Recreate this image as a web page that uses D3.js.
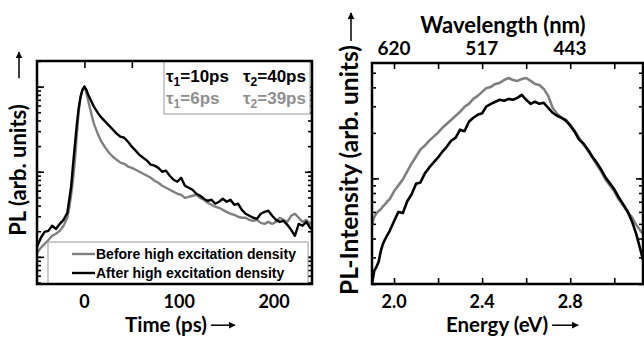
<!DOCTYPE html>
<html>
<head>
<meta charset="utf-8">
<script src="https://cdn.jsdelivr.net/npm/d3@7"></script>
<style>
  body { margin: 0; background: #fff; }
</style>
</head>
<body>
<script>
// left panel: time resolved PL, normalised to the peak
const timePs = [-50, -46, -42, -38, -34, -30, -26, -22, -18, -16, -14, -12, -10, -8, -6, -4, -2, 0, 2, 4, 6, 8,
  10, 14, 18, 22, 26, 30, 34, 38, 42, 46, 50, 54, 58, 62, 66, 70, 74, 78, 82, 86, 90, 94, 98, 102, 106, 110,
  114, 118, 122, 126, 130, 134, 138, 142, 146, 150, 154, 158, 162, 166, 170, 174, 178, 182, 186, 190, 194,
  198, 202, 206, 210, 214, 218, 222, 226, 230, 234, 238, 240];
const plBefore = [0.0111, 0.0128, 0.0142, 0.0158, 0.0177, 0.0187, 0.0202, 0.0232, 0.0288, 0.0377, 0.0536,
  0.0805, 0.138, 0.272, 0.508, 0.763, 0.922, 1, 0.850, 0.684, 0.551, 0.444,
  0.367, 0.280, 0.225, 0.192, 0.167, 0.150, 0.138, 0.128, 0.124, 0.115, 0.111, 0.1056, 0.100, 0.0947, 0.0897,
  0.0850, 0.0784, 0.0743, 0.0685, 0.0648, 0.0614, 0.0582, 0.0551, 0.0536, 0.0494, 0.0508, 0.0522, 0.0536,
  0.0494, 0.0469, 0.0432, 0.0409, 0.0388, 0.0377, 0.0357, 0.0338, 0.0321, 0.0312, 0.0296, 0.0288, 0.0288,
  0.0272, 0.0265, 0.0272, 0.0251, 0.0244, 0.0258, 0.0244, 0.0258, 0.0288, 0.0272, 0.0258, 0.0304, 0.0321,
  0.0288, 0.0258, 0.0272, 0.0244, 0.0258];
const plAfter = [0.0131, 0.0167, 0.0197, 0.0202, 0.0232, 0.0213, 0.0244, 0.0272, 0.0330, 0.0469, 0.0666,
  0.121, 0.208, 0.357, 0.566, 0.763, 0.922, 1, 0.922, 0.805, 0.723, 0.648,
  0.582, 0.494, 0.432, 0.388, 0.348, 0.312, 0.280, 0.258, 0.251, 0.225, 0.197, 0.177, 0.158, 0.146, 0.135,
  0.121, 0.118, 0.111, 0.100, 0.103, 0.0897, 0.0805, 0.0763, 0.0850, 0.0685, 0.0648, 0.0614, 0.0551, 0.0522,
  0.0481, 0.0456, 0.0469, 0.0421, 0.0444, 0.0481, 0.0444, 0.0469, 0.0409, 0.0421, 0.0357, 0.0321, 0.0304,
  0.0288, 0.0280, 0.0321, 0.0338, 0.0348, 0.0304, 0.0272, 0.0258, 0.0265, 0.0238, 0.0208, 0.0177, 0.0244,
  0.0232, 0.0258, 0.0219, 0.0213];
const timeTicks = [0, 100, 200];
const timeTopTicks = [0, 50, 100, 150, 200];
const plMajor = [0.01, 0.1, 1];
const tauRows = [['10', '40'], ['6', '39']];
const legendLabels = ['Before high excitation density', 'After high excitation density'];

// right panel: PL spectra
const energyEv = [1.90, 1.91, 1.92, 1.93, 1.94, 1.95, 1.96, 1.97, 1.98, 2.00, 2.02, 2.04, 2.06, 2.08, 2.10,
  2.12, 2.14, 2.16, 2.18, 2.20, 2.22, 2.24, 2.26, 2.28, 2.30, 2.32, 2.34, 2.36, 2.38, 2.40, 2.42, 2.44, 2.46,
  2.48, 2.50, 2.52, 2.54, 2.56, 2.58, 2.60, 2.62, 2.64, 2.66, 2.68, 2.70, 2.72, 2.74, 2.76, 2.78, 2.80, 2.82,
  2.84, 2.86, 2.88, 2.90, 2.92, 2.94, 2.96, 2.98, 3.00, 3.02, 3.04, 3.06, 3.08, 3.10, 3.12, 3.135];
const specBefore = [0.498, 0.554, 0.588, 0.607, 0.625, 0.654, 0.675, 0.706, 0.727, 0.821, 0.899, 0.985, 1.112,
  1.255, 1.396, 1.552, 1.648, 1.778, 1.889, 2.008, 2.165, 2.301, 2.444, 2.596, 2.759, 2.976, 3.114, 3.357,
  3.516, 3.735, 3.969, 4.030, 4.217, 4.284, 4.479, 4.616, 4.479, 4.415, 4.547, 4.616, 4.415, 4.217, 4.152,
  3.908, 3.516, 2.931, 2.678, 2.519, 2.444, 2.266, 2.069, 1.861, 1.673, 1.528, 1.375, 1.236, 1.112, 0.985,
  0.899, 0.821, 0.727, 0.664, 0.598, 0.554, 0.491, 0.448, 0.422];
const specAfter = [0.201, 0.244, 0.260, 0.280, 0.331, 0.370, 0.397, 0.422, 0.448, 0.521, 0.600, 0.590, 0.706,
  0.785, 0.920, 0.940, 1.079, 1.181, 1.274, 1.375, 1.505, 1.624, 1.778, 1.861, 2.100, 2.050, 2.371, 2.519,
  2.637, 2.700, 3.000, 3.114, 3.212, 3.311, 3.261, 3.357, 3.311, 3.411, 3.570, 3.311, 3.114, 3.212, 3.114,
  3.162, 2.931, 2.718, 2.596, 2.519, 2.408, 2.233, 2.038, 1.805, 1.700, 1.552, 1.396, 1.274, 1.146, 1.015,
  0.927, 0.847, 0.750, 0.675, 0.607, 0.521, 0.428, 0.331, 0.272];
const energyTicks = [2.0, 2.4, 2.8];
const energyMinorTicks = [2.0, 2.2, 2.4, 2.6, 2.8, 3.0];
const wavelengthTicks = [620, 517, 443];
const specMajor = [1];

const grey = '#808080';
const titleFont = 'Lato, "Open Sans", sans-serif';
const boxFont = '"Liberation Sans", Arial, sans-serif';

const svg = d3.select('body').append('svg')
  .attr('width', 644)
  .attr('height', 337);

const defs = svg.append('defs');
defs.append('marker')
  .attr('id', 'head')
  .attr('viewBox', '0 0 10 10')
  .attr('refX', 9).attr('refY', 5)
  .attr('markerWidth', 7).attr('markerHeight', 7)
  .attr('markerUnits', 'userSpaceOnUse')
  .attr('orient', 'auto')
  .append('path')
  .attr('d', 'M0,0L10,5L0,10Z')
  .attr('fill', '#000');

function ticksY(g, scale, x, side, values, len) {
  const axis = side === 'left' ? d3.axisLeft(scale) : d3.axisRight(scale);
  g.append('g')
    .attr('transform', `translate(${x},0)`)
    .call(axis.tickValues(values).tickSize(-len).tickFormat(''))
    .call((a) => a.select('.domain').remove())
    .selectAll('line').attr('stroke', '#000').attr('stroke-width', 1.6);
}

function ticksX(g, scale, y, side, values, len) {
  const axis = side === 'top' ? d3.axisTop(scale) : d3.axisBottom(scale);
  g.append('g')
    .attr('transform', `translate(0,${y})`)
    .call(axis.tickValues(values).tickSize(-len).tickFormat(''))
    .call((a) => a.select('.domain').remove())
    .selectAll('line').attr('stroke', '#000').attr('stroke-width', 1.6);
}

function hArrow(text, gap, len) {
  const bb = text.node().getBBox();
  const y = bb.y + bb.height * 0.55;
  svg.append('line')
    .attr('x1', bb.x + bb.width + gap).attr('x2', bb.x + bb.width + gap + len)
    .attr('y1', y).attr('y2', y)
    .attr('stroke', '#000').attr('stroke-width', 1.5)
    .attr('marker-end', 'url(#head)');
}

function yTitle(label, cx, cy, size, gap, len) {
  const t = svg.append('text')
    .attr('transform', `translate(${cx},${cy}) rotate(-90)`)
    .attr('text-anchor', 'middle')
    .attr('font-family', titleFont).attr('font-weight', 700)
    .attr('font-size', size)
    .text(label);
  const w = t.node().getComputedTextLength();
  const ax = cx - 7;
  svg.append('line')
    .attr('x1', ax).attr('x2', ax)
    .attr('y1', cy - w / 2 - gap).attr('y2', cy - w / 2 - gap - len)
    .attr('stroke', '#000').attr('stroke-width', 1.5)
    .attr('marker-end', 'url(#head)');
}

// ---------- left panel ----------
const L = { x0: 37, x1: 312, y0: 61, y1: 284 };
const xL = d3.scaleLinear().domain([-50, 240]).range([L.x0, L.x1]);
const yL = d3.scaleLog().domain([0.0048, 2.0]).range([L.y1, L.y0]);

defs.append('clipPath').attr('id', 'clipL')
  .append('rect').attr('x', L.x0).attr('y', L.y0)
  .attr('width', L.x1 - L.x0).attr('height', L.y1 - L.y0);

const left = svg.append('g');
const lineL = d3.line().x((d) => xL(d[0])).y((d) => yL(d[1]));

left.append('g').attr('clip-path', 'url(#clipL)')
  .selectAll('path')
  .data([[plBefore, grey], [plAfter, '#000']])
  .join('path')
  .attr('d', (d) => lineL(d3.zip(timePs, d[0])))
  .attr('fill', 'none')
  .attr('stroke', (d) => d[1])
  .attr('stroke-width', 2.4)
  .attr('stroke-linejoin', 'round');

const minorL = yL.ticks();
ticksY(left, yL, L.x0, 'left', minorL, 4);
ticksY(left, yL, L.x0, 'left', plMajor, 7);
ticksY(left, yL, L.x1, 'right', minorL, 4);
ticksY(left, yL, L.x1, 'right', plMajor, 7);
ticksX(left, xL, L.y0, 'top', timeTopTicks, 7);

// tau box
const tau = left.append('g');
tau.append('rect')
  .attr('x', 164).attr('y', L.y0).attr('width', 146).attr('height', 53)
  .attr('fill', '#fff').attr('stroke', '#9a9a9a').attr('stroke-width', 1);
tauRows.forEach((row, i) => {
  row.forEach((v, j) => {
    const t = tau.append('text')
      .attr('x', 166 + j * 77).attr('y', 82 + i * 22)
      .attr('font-family', boxFont).attr('font-weight', 700)
      .attr('font-size', 17)
      .attr('fill', i === 0 ? '#000' : '#8f8f8f');
    t.append('tspan').text('τ');
    t.append('tspan').attr('dy', 4).attr('font-size', 12).text(j + 1);
    t.append('tspan').attr('dy', -4).text('=' + v + 'ps');
  });
});

// legend box
const leg = left.append('g');
leg.append('rect')
  .attr('x', 48).attr('y', 242).attr('width', 260).attr('height', L.y1 - 242)
  .attr('fill', '#fff').attr('stroke', '#9a9a9a').attr('stroke-width', 1);
legendLabels.forEach((lab, i) => {
  const y = 254 + i * 19;
  leg.append('line')
    .attr('x1', 72).attr('x2', 95).attr('y1', y).attr('y2', y)
    .attr('stroke', i === 0 ? grey : '#000').attr('stroke-width', 2.4);
  leg.append('text')
    .attr('x', 96).attr('y', y + 5)
    .attr('font-family', boxFont).attr('font-weight', 700)
    .attr('font-size', 14)
    .text(lab);
});

left.append('rect')
  .attr('x', L.x0).attr('y', L.y0)
  .attr('width', L.x1 - L.x0).attr('height', L.y1 - L.y0)
  .attr('fill', 'none').attr('stroke', '#000').attr('stroke-width', 2.5);

left.selectAll('text.tl')
  .data(timeTicks)
  .join('text')
  .attr('class', 'tl')
  .attr('x', (d) => xL(d)).attr('y', 308)
  .attr('text-anchor', 'middle')
  .attr('font-family', titleFont).attr('font-weight', 700)
  .attr('font-size', 18)
  .text((d) => d);

const timeTitle = svg.append('text')
  .attr('x', 125).attr('y', 332)
  .attr('font-family', titleFont).attr('font-weight', 700)
  .attr('font-size', 20.5)
  .text('Time (ps)');
hArrow(timeTitle, 4, 24);
yTitle('PL (arb. units)', 26, 170, 22, 26, 26);

// ---------- right panel ----------
const R = { x0: 372, x1: 643, y0: 63, y1: 284 };
const xR = d3.scaleLinear().domain([1.9, 3.135]).range([R.x0, 644]);
const yR = d3.scaleLog().domain([0.2, 5.8]).range([R.y1, R.y0]);

defs.append('clipPath').attr('id', 'clipR')
  .append('rect').attr('x', R.x0).attr('y', R.y0)
  .attr('width', R.x1 - R.x0).attr('height', R.y1 - R.y0);

const right = svg.append('g');
const lineR = d3.line().x((d) => xR(d[0])).y((d) => yR(d[1]));

right.append('g').attr('clip-path', 'url(#clipR)')
  .selectAll('path')
  .data([[specBefore, grey], [specAfter, '#000']])
  .join('path')
  .attr('d', (d) => lineR(d3.zip(energyEv, d[0])))
  .attr('fill', 'none')
  .attr('stroke', (d) => d[1])
  .attr('stroke-width', 2.6)
  .attr('stroke-linejoin', 'round');

const minorR = yR.ticks();
ticksY(right, yR, R.x0, 'left', minorR, 4);
ticksY(right, yR, R.x0, 'left', specMajor, 7);
ticksY(right, yR, R.x1, 'right', minorR, 4);
ticksY(right, yR, R.x1, 'right', specMajor, 7);
ticksX(right, xR, R.y0, 'top', energyMinorTicks, 6);
ticksX(right, xR, R.y1, 'bottom', energyMinorTicks, 6);

right.append('rect')
  .attr('x', R.x0).attr('y', R.y0)
  .attr('width', R.x1 - R.x0).attr('height', R.y1 - R.y0)
  .attr('fill', 'none').attr('stroke', '#000').attr('stroke-width', 2.5);

right.selectAll('text.el')
  .data(energyTicks)
  .join('text')
  .attr('class', 'el')
  .attr('x', (d) => xR(d)).attr('y', 308)
  .attr('text-anchor', 'middle')
  .attr('font-family', titleFont).attr('font-weight', 700)
  .attr('font-size', 18)
  .text((d) => d.toFixed(1));

right.selectAll('text.wl')
  .data(wavelengthTicks)
  .join('text')
  .attr('class', 'wl')
  .attr('x', (d) => xR(1239.84 / d)).attr('y', 55)
  .attr('text-anchor', 'middle')
  .attr('font-family', titleFont).attr('font-weight', 700)
  .attr('font-size', 19)
  .text((d) => d);

svg.append('text')
  .attr('x', 503).attr('y', 33)
  .attr('text-anchor', 'middle')
  .attr('font-family', titleFont).attr('font-weight', 700)
  .attr('font-size', 22)
  .text('Wavelength (nm)');

const energyTitle = svg.append('text')
  .attr('x', 446).attr('y', 332)
  .attr('font-family', titleFont).attr('font-weight', 700)
  .attr('font-size', 20.5)
  .text('Energy (eV)');
hArrow(energyTitle, 4, 26);
yTitle('PL-Intensity (arb. units)', 358, 170, 24.5, 4, 28);
</script>
</body>
</html>
